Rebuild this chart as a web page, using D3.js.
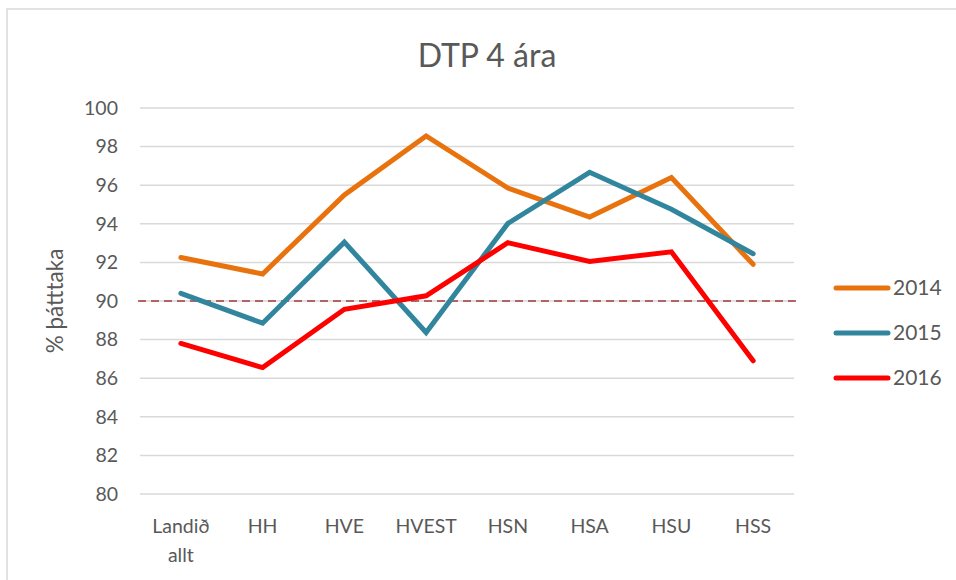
<html>
<head>
<script src="https://d3js.org/d3.v7.min.js"></script>
<style>
body { margin: 0; background: #fff; }
text { font-family: Lato, "Open Sans", sans-serif; fill: #595959; }
</style>
</head>
<body>
<svg width="956" height="580"></svg>
<script>
var categories = ["Landið allt", "HH", "HVE", "HVEST", "HSN", "HSA", "HSU", "HSS"];
var years = ["2014", "2015", "2016"];
var values2014 = [92.25, 91.4, 95.5, 98.55, 95.85, 94.35, 96.4, 91.9];
var values2015 = [90.4, 88.85, 93.05, 88.37, 94.02, 96.67, 94.75, 92.45];
var values2016 = [87.8, 86.55, 89.57, 90.27, 93.02, 92.05, 92.55, 86.9];
var yTicks = [80, 82, 84, 86, 88, 90, 92, 94, 96, 98, 100];
var target = 90;
var colors = ["#E8730E", "#31869E", "#FF0000"];

var series = [values2014, values2015, values2016];

var svg = d3.select("svg");

// chart frame (only top/left visible in the crop)
svg.append("rect")
    .attr("x", 7).attr("y", 9)
    .attr("width", 1000).attr("height", 600)
    .attr("fill", "none")
    .attr("stroke", "#d9d9d9")
    .attr("stroke-width", 1.5);

var x = d3.scaleBand()
    .domain(categories)
    .range([140, 794]);
var y = d3.scaleLinear()
    .domain([80, 100])
    .range([494, 108]);

// gridlines
svg.append("g")
  .selectAll("line")
  .data(yTicks)
  .enter().append("line")
    .attr("x1", 140).attr("x2", 794)
    .attr("y1", function(d) { return y(d); })
    .attr("y2", function(d) { return y(d); })
    .attr("stroke", "#d9d9d9")
    .attr("stroke-width", 1.5);

// y tick labels
svg.append("g")
  .selectAll("text")
  .data(yTicks)
  .enter().append("text")
    .attr("x", 118)
    .attr("y", function(d) { return y(d); })
    .attr("dy", "0.35em")
    .attr("text-anchor", "end")
    .style("font-size", "19.5px")
    .text(function(d) { return d; });

// x labels
var xl = svg.append("g")
  .selectAll("text")
  .data(categories)
  .enter().append("text")
    .attr("x", function(d) { return x(d) + x.bandwidth() / 2; })
    .attr("y", 533)
    .attr("text-anchor", "middle")
    .style("font-size", "19.5px");
xl.each(function(d) {
  var words = d.split(" ");
  var t = d3.select(this);
  words.forEach(function(w, i) {
    t.append("tspan")
      .attr("x", x(d) + x.bandwidth() / 2)
      .attr("dy", i ? "1.5em" : 0)
      .text(w);
  });
});

// target line
svg.append("line")
    .attr("x1", 138).attr("x2", 798)
    .attr("y1", y(target)).attr("y2", y(target))
    .attr("stroke", "#A33B3B")
    .attr("stroke-width", 1.5)
    .attr("stroke-dasharray", "8,5");

var line = d3.line()
    .x(function(d, i) { return x(categories[i]) + x.bandwidth() / 2; })
    .y(function(d) { return y(d); });

svg.append("g")
  .selectAll("path")
  .data(series)
  .enter().append("path")
    .attr("d", line)
    .attr("fill", "none")
    .attr("stroke", function(d, i) { return colors[i]; })
    .attr("stroke-width", 5)
    .attr("stroke-linecap", "round")
    .attr("stroke-linejoin", "miter");

// title
svg.append("text")
    .attr("x", 487).attr("y", 67)
    .attr("text-anchor", "middle")
    .style("font-size", "32px")
    .text("DTP 4 ára");

// y axis title
svg.append("text")
    .attr("transform", "translate(63,301) rotate(-90)")
    .attr("text-anchor", "middle")
    .style("font-size", "22.5px")
    .text("% þátttaka");

// legend
var leg = svg.append("g")
  .selectAll("g")
  .data(years)
  .enter().append("g")
    .attr("transform", function(d, i) { return "translate(0," + (288 + i * 45) + ")"; });
leg.append("line")
    .attr("x1", 836).attr("x2", 888)
    .attr("stroke", function(d, i) { return colors[i]; })
    .attr("stroke-width", 5)
    .attr("stroke-linecap", "round");
leg.append("text")
    .attr("x", 893)
    .attr("dy", "0.35em")
    .style("font-size", "21px")
    .text(function(d) { return d; });
</script>
</body>
</html>
